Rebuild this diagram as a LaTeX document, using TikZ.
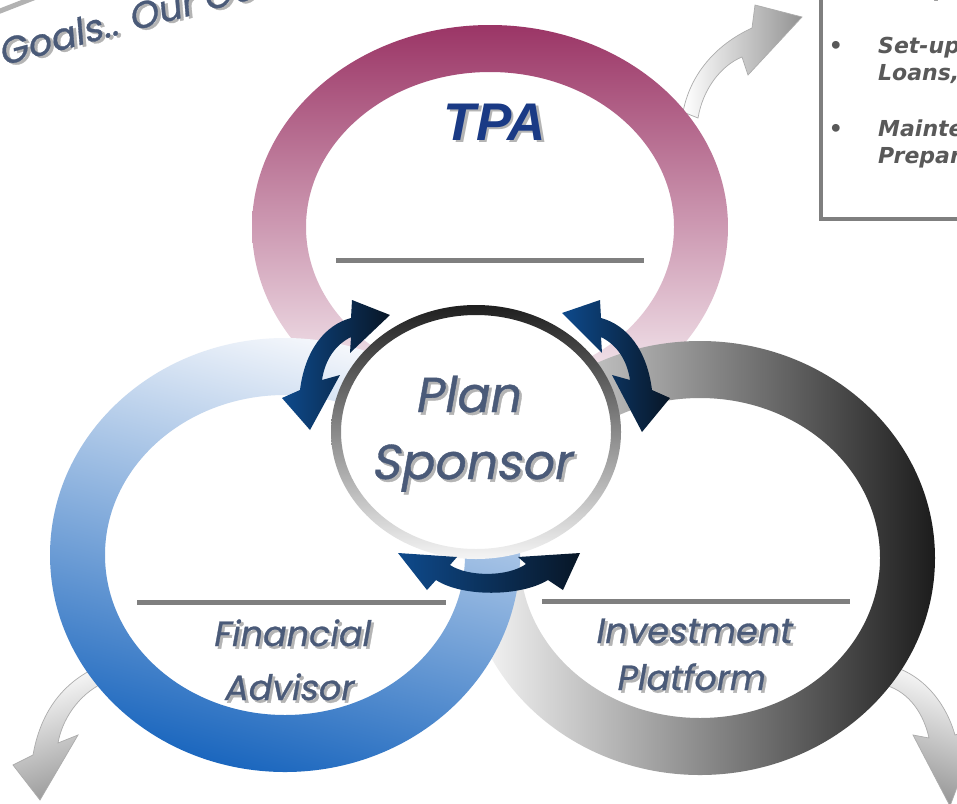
\documentclass[tikz,border=0pt]{standalone}
\usepackage{fontspec}
\usetikzlibrary{arrows.meta}
\newfontfamily\lblfont{Poppins}[FakeSlant=0.18,FakeBold=0.8]
\newfontfamily\tpafont{Liberation Sans}
\newfontfamily\boxfont{DejaVu Sans}
\definecolor{tpatop}{HTML}{9B3566}
\definecolor{tpamid}{HTML}{C9A2B8}
\definecolor{tpabot}{HTML}{FFFFFF}
\definecolor{fatop}{HTML}{F6F8FC}
\definecolor{famid}{HTML}{C2D1EC}
\definecolor{fabot}{HTML}{1A66BE}
\definecolor{ipleft}{HTML}{FCFCFC}
\definecolor{ipright}{HTML}{1C1C1C}
\definecolor{lblcol}{HTML}{4A5A78}
\definecolor{tpacol}{HTML}{1A3A85}
\definecolor{shadowgray}{HTML}{B4B4B4}
\definecolor{arrowblue}{HTML}{0E4A8C}
\definecolor{arrowdark}{HTML}{081626}
\definecolor{linegray}{HTML}{7F7F7F}
\definecolor{boxtext}{HTML}{595959}
\newcommand{\glowtext}[2]{%
  \leavevmode
  \rlap{\kern2.6pt\raisebox{-2.6pt}{\textcolor{shadowgray}{#2}}}%
  \textcolor{#1}{#2}}
\begin{document}
\begin{tikzpicture}[x=1pt,y=-1pt,
  lbl/.style={inner sep=0pt, font=\lblfont\fontsize{49}{50}\selectfont},
  sublbl/.style={inner sep=0pt, font=\lblfont\fontsize{35}{36}\selectfont},
  boxtxt/.style={inner sep=0pt, text=boxtext, font=\boxfont\bfseries\itshape\fontsize{22}{24}\selectfont},
  sepline/.style={draw=linegray, line width=5pt},
  grayarrow/.style={draw=gray!65, line width=0.7pt},
  bluearrow/.style={left color=arrowblue, right color=arrowdark}]
\useasboundingbox (0,0) rectangle (957,803);
\begin{scope}
\clip (0,0) rectangle (957,803);
\fill[white] (0,0) rectangle (957,803);

% gray outgoing arrows (behind rings)
\shadedraw[grayarrow, left color=white, right color=gray!85]
  (683,112) .. controls (690,75) and (715,45) .. (752,28) -- (755,5) -- (802,17)
  -- (748,75) -- (742,57) .. controls (722,65) and (703,88) .. (698,118) -- cycle;
\shadedraw[grayarrow, top color=white, bottom color=gray!80, shading angle=20]
  (95,668) .. controls (60,685) and (40,715) .. (33,755) -- (13,765) -- (40,800)
  -- (78,735) -- (58,743) .. controls (62,720) and (78,695) .. (103,683) -- cycle;
\shadedraw[grayarrow, top color=white, bottom color=gray!85, shading angle=-20]
  (887,665) .. controls (920,672) and (945,700) .. (955,735) -- (980,726) -- (950,806)
  -- (913,735) -- (929,738) .. controls (924,715) and (910,692) .. (885,685) -- cycle;

% top-left fragment bar
\draw[line width=5pt, gray!60] (-5,13) -- (36,-3);

% rings
\shade[top color=tpatop, middle color=tpamid, bottom color=tpabot, even odd rule]
  (490,227) ellipse [x radius=238pt, y radius=202pt]
  (490,227) ellipse [x radius=184pt, y radius=155pt];
\shade[left color=ipleft, right color=ipright, even odd rule]
  (700,558) ellipse [x radius=235pt, y radius=217pt]
  (700,558) ellipse [x radius=180pt, y radius=160pt];
\shade[top color=fatop, middle color=famid, bottom color=fabot, shading angle=-15, even odd rule]
  (285,555) ellipse [x radius=235pt, y radius=217pt]
  (285,555) ellipse [x radius=180pt, y radius=160pt];

% center circle
\fill[white] (476,432) ellipse [x radius=136pt, y radius=118pt];
\shade[top color=black!88, bottom color=gray!8, even odd rule]
  (476,432) ellipse [x radius=145pt, y radius=127pt]
  (476,432) ellipse [x radius=135pt, y radius=117pt];

% separator lines
\coordinate (tpaL) at (336,260); \coordinate (tpaR) at (644,260);
\coordinate (faL) at (137,602); \coordinate (faR) at (446,602);
\coordinate (ipL) at (542,601); \coordinate (ipR) at (850,601);
\draw[sepline] (tpaL) -- (tpaR);
\draw[sepline] (faL) -- (faR);
\draw[sepline] (ipL) -- (ipR);

% labels
\node[anchor=base, inner sep=0pt, font=\tpafont\bfseries\itshape\fontsize{53}{54}\selectfont] (tpa) at (495,140) {\glowtext{tpacol}{TPA}};
\node[lbl, anchor=base] (plan) at (467,412) {\glowtext{lblcol}{Plan}};
\node[lbl, anchor=base] (sponsor) at (471,479) {\glowtext{lblcol}{Sponsor}};
\node[sublbl, anchor=base] (fin) at (291,646) {\glowtext{lblcol}{Financial}};
\node[sublbl, anchor=base] (adv) at (288,700) {\glowtext{lblcol}{Advisor}};
\node[sublbl, anchor=base] (inv) at (693,643) {\glowtext{lblcol}{Investment}};
\node[sublbl, anchor=base] (plat) at (690,690) {\glowtext{lblcol}{Platform}};

% blue double arrows
\shade[bluearrow]
  (300,390) .. controls (305,350) and (325,325) .. (351,318) -- (352,300) -- (390,315)
  -- (350,353) -- (351,337) .. controls (335,345) and (325,360) .. (322,380)
  -- (340,375) -- (310,430) -- (282,398) -- cycle;
\shade[bluearrow]
  (652,390) .. controls (647,350) and (627,325) .. (601,318) -- (600,300) -- (562,313)
  -- (602,353) -- (601,337) .. controls (617,345) and (627,360) .. (630,380)
  -- (612,375) -- (642,432) -- (670,398) -- cycle;
\shade[bluearrow]
  (398,553) -- (457,557) -- (450,565) .. controls (468,577) and (508,577) .. (526,564)
  -- (518,557) -- (580,553) -- (563,590) -- (548,580) .. controls (520,597) and (462,597) .. (436,580)
  -- (427,590) -- cycle;

% top-right box
\draw[linegray, line width=4pt, fill=white] (821,-20) rectangle (990,219);
\node[boxtxt, anchor=base west] (b0) at (880,-3) {Compliance};
\node[boxtxt, anchor=base] (bul1) at (836,53) {•};
\node[boxtxt, anchor=base west] (b1a) at (878,53) {Set-up};
\node[boxtxt, anchor=base west] (b1b) at (878,80) {Loans,};
\node[boxtxt, anchor=base] (bul2) at (836,136) {•};
\node[boxtxt, anchor=base west] (b2a) at (878,136) {Maintenance};
\node[boxtxt, anchor=base west] (b2b) at (878,163) {Preparation};

% rotated heading fragment
\node[inner sep=0pt, anchor=base west, rotate=15, font=\lblfont\fontsize{37}{38}\selectfont] (goals) at (2,66) {\glowtext{lblcol}{Goals.. Our Goals}};
\end{scope}
\end{tikzpicture}
\end{document}
